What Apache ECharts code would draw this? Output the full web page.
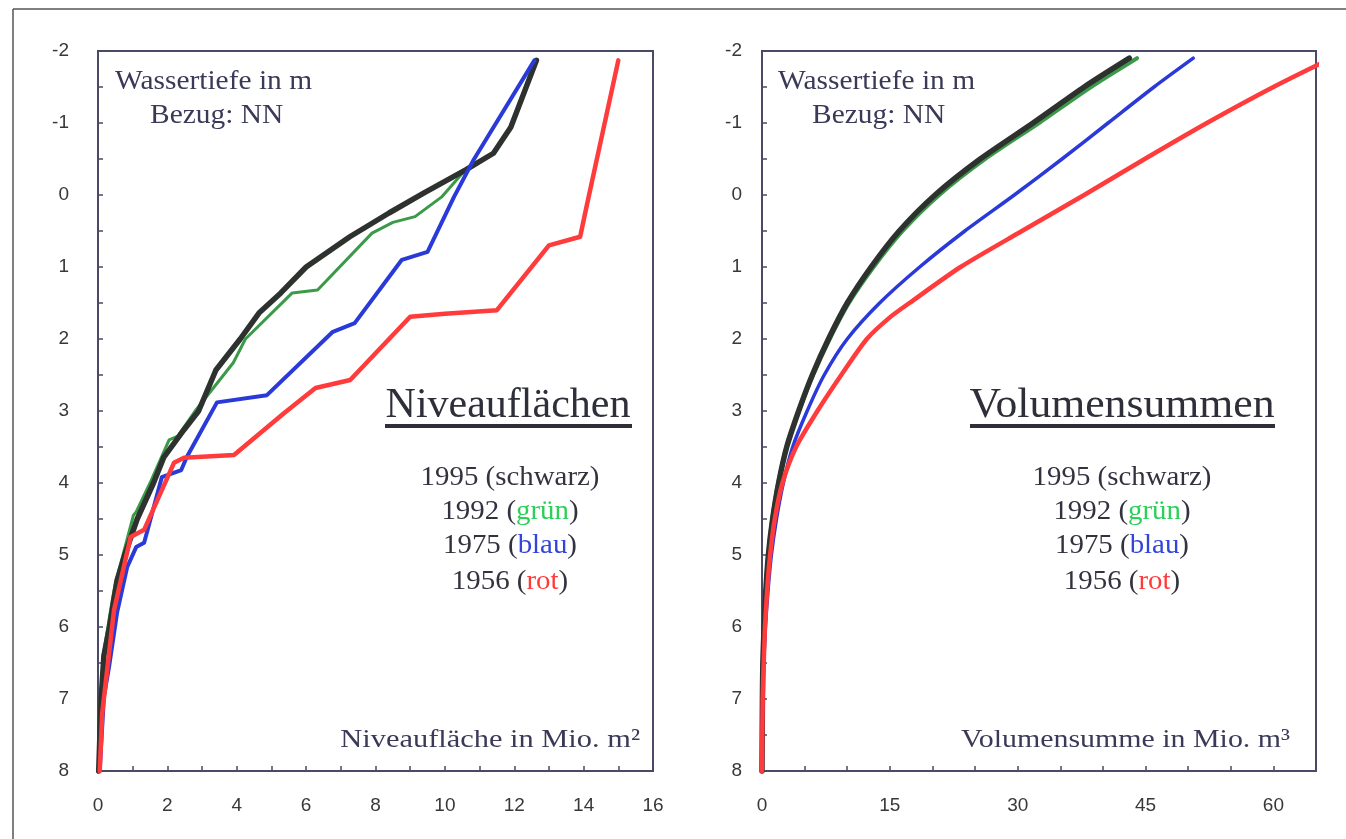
<!DOCTYPE html>
<html>
<head>
<meta charset="utf-8">
<script src="https://cdn.jsdelivr.net/npm/echarts@6/dist/echarts.min.js"></script>
<style>
html,body{margin:0;padding:0;background:#fff;}
#chart{width:1346px;height:839px;}
</style>
</head>
<body>
<div id="chart"></div>
<script>
// ---------- Niveauflächen (area in Mio. m², depth in m) ----------
const area1995Depth = [8.0, 7.0, 6.4, 6.0, 5.35, 5.0, 4.5, 4.0, 3.64, 3.26, 3.0, 2.43, 2.0, 1.64, 1.36, 1.0, 0.58, 0.25, -0.03, -0.35, -0.58, -0.94, -1.87];
const area1995 =      [0.02, 0.09, 0.17, 0.33, 0.55, 0.77, 1.13, 1.6, 1.9, 2.48, 2.9, 3.4, 4.1, 4.64, 5.27, 6.0, 7.26, 8.39, 9.4, 10.6, 11.4, 11.9, 12.64];

const area1992Depth = [8.0, 7.0, 6.4, 5.6, 5.4, 5.0, 4.45, 4.4, 4.0, 3.4, 3.35, 3.0, 2.33, 2.0, 1.36, 1.32, 0.53, 0.38, 0.3, 0.03, -0.3, -0.58, -0.94, -1.87];
const area1992 =      [0.02, 0.08, 0.15, 0.42, 0.5, 0.72, 1.02, 1.1, 1.5, 2.05, 2.3, 2.8, 3.9, 4.25, 5.6, 6.33, 7.9, 8.5, 9.14, 9.9, 10.5, 11.4, 11.9, 12.6];

const area1975Depth = [8.0, 6.97, 6.55, 5.8, 5.17, 4.89, 4.83, 3.92, 3.82, 3.64, 2.88, 2.78, 1.9, 1.78, 0.9, 0.79, 0.03, -0.49, -1.87];
const area1975 =      [0.05, 0.17, 0.32, 0.55, 0.84, 1.1, 1.33, 1.84, 2.4, 2.56, 3.43, 4.87, 6.77, 7.4, 8.76, 9.5, 10.26, 10.83, 12.58];

const area1956Depth = [8.0, 7.2, 5.77, 4.75, 4.65, 3.72, 3.65, 3.61, 3.03, 2.68, 2.57, 1.69, 1.65, 1.6, 0.7, 0.58, 0.17, -1.87];
const area1956 =      [0.05, 0.12, 0.46, 0.94, 1.33, 2.19, 2.48, 3.92, 5.36, 6.27, 7.27, 9.0, 10.0, 11.5, 13.0, 13.9, 14.08, 15.0];

// ---------- Volumensummen (volume in Mio. m³, depth in m) ----------
const volDepth = [8.0, 7.0, 6.5, 6.0, 5.5, 5.0, 4.5, 4.0, 3.5, 3.0, 2.5, 2.0, 1.5, 1.0, 0.5, 0.0, -0.5, -1.0, -1.5, -1.9];
const vol1995 = [0, 0.05, 0.1, 0.25, 0.45, 0.75, 1.25, 1.95, 2.9, 4.3, 5.9, 7.8, 10.0, 12.8, 16.1, 20.3, 25.6, 31.8, 37.8, 43.1];
const vol1992 = [0, 0.05, 0.1, 0.24, 0.43, 0.72, 1.2, 1.9, 2.9, 4.35, 6.0, 7.95, 10.2, 13.1, 16.5, 20.8, 26.2, 32.5, 38.6, 44.0];
const vol1975 = [0, 0.08, 0.2, 0.4, 0.7, 1.1, 1.7, 2.5, 3.6, 5.3, 7.3, 10.0, 13.8, 18.5, 23.8, 29.6, 35.2, 40.6, 46.0, 50.6];
const vol1956Depth = [8.0, 7.0, 6.5, 6.0, 5.5, 5.0, 4.5, 4.0, 3.5, 3.0, 2.5, 2.0, 1.7, 1.5, 1.0, 0.5, 0.0, -0.5, -1.0, -1.5, -1.9];
const vol1956 = [0, 0.08, 0.2, 0.35, 0.6, 0.95, 1.5, 2.4, 4.0, 6.5, 9.3, 12.3, 15.0, 17.3, 23.3, 30.5, 37.8, 44.9, 52.2, 60.0, 66.8];

// ---------- Axis ticks / labels ----------
const depthMin = -2, depthMax = 8, depthTickStep = 0.5;
const areaMin = 0, areaMax = 16, areaTickStep = 1, areaLabelStep = 2;
const volMin = 0, volMax = 65, volTickStep = 5, volLabelStep = 15;

const pairs = (xs, ys) => xs.map((x, i) => [x, ys[i]]);

const AXIS_COL = '#4a4a66';
const SERIF = '"Liberation Serif", "Times New Roman", serif';
const SANS = '"Liberation Sans", Arial, sans-serif';
const C_BLACK = '#2e322f', C_GREEN = '#3a9a48', C_BLUE = '#2a3ad8', C_RED = '#ff3b3b';

function yAxisDef(gridIndex, margin) {
  return {
    type: 'value', gridIndex, inverse: true, min: depthMin, max: depthMax, interval: depthTickStep,
    axisLine: { show: true, lineStyle: { color: AXIS_COL, width: 2 } },
    axisTick: { show: true, inside: true, length: 5, lineStyle: { color: AXIS_COL, width: 1.5 } },
    axisLabel: {
      margin, color: '#383838', fontFamily: SANS, fontSize: 19,
      formatter: v => Number.isInteger(v) ? String(v) : ''
    },
    splitLine: { show: false }
  };
}
function xAxisDef(gridIndex, min, max, step, labelStep) {
  return {
    type: 'value', gridIndex, min, max, interval: step,
    axisLine: { show: true, onZero: false, lineStyle: { color: AXIS_COL, width: 2 } },
    axisTick: { show: true, inside: true, length: 5, lineStyle: { color: AXIS_COL, width: 1.5 } },
    axisLabel: {
      margin: 25, color: '#383838', fontFamily: SANS, fontSize: 19,
      formatter: v => (Math.round(v) % labelStep === 0) ? String(v) : ''
    },
    splitLine: { show: false }
  };
}
function lineSeries(name, data, color, width, xi, smooth, z) {
  return {
    name, type: 'line', xAxisIndex: xi, yAxisIndex: xi, data,
    showSymbol: false, symbol: 'none', smooth: smooth, clip: false, z,
    lineStyle: { color, width, cap: 'round', join: 'round' }
  };
}

function legendBlock(cx) {
  const lines = [
    ['{d|1995 (schwarz)}', 478],
    ['{d|1992 (}{g|grün}{d|)}', 512],
    ['{d|1975 (}{b|blau}{d|)}', 546],
    ['{d|1956 (}{r|rot}{d|)}', 582]
  ];
  return lines.map(([t, y]) => ({
    type: 'text', x: cx, y, z: 50, scaleX: 1.07,
    style: {
      text: t, textAlign: 'center', textVerticalAlign: 'middle',
      rich: {
        d: { fill: '#333340', font: '27px ' + SERIF },
        g: { fill: '#2ccf5a', font: '27px ' + SERIF },
        b: { fill: '#3344dd', font: '27px ' + SERIF },
        r: { fill: '#ff3a3a', font: '27px ' + SERIF }
      }
    }
  }));
}

function txt(text, x, y, size, align, color, sx) {
  return { type: 'text', x, y, z: 50, scaleX: sx || 1,
    style: { text, font: size + 'px ' + SERIF, fill: color || '#3a3a58', textAlign: align || 'left', textVerticalAlign: 'middle' } };
}

const chart = echarts.init(document.getElementById('chart'), null, { renderer: 'canvas' });
chart.setOption({
  animation: false,
  backgroundColor: '#ffffff',
  grid: [
    { left: 98, top: 51, width: 555, height: 720, show: true, borderColor: AXIS_COL, borderWidth: 2, backgroundColor: 'transparent' },
    { left: 762, top: 51, width: 554, height: 720, show: true, borderColor: AXIS_COL, borderWidth: 2, backgroundColor: 'transparent' }
  ],
  xAxis: [
    xAxisDef(0, areaMin, areaMax, areaTickStep, areaLabelStep),
    xAxisDef(1, volMin, volMax, volTickStep, volLabelStep)
  ],
  yAxis: [yAxisDef(0, 29), yAxisDef(1, 20)],
  series: [
    lineSeries('1992', pairs(area1992, area1992Depth), C_GREEN, 3, 0, false, 2),
    lineSeries('1995', pairs(area1995, area1995Depth), C_BLACK, 5.5, 0, false, 3),
    lineSeries('1975', pairs(area1975, area1975Depth), C_BLUE, 4, 0, false, 4),
    lineSeries('1956', pairs(area1956, area1956Depth), C_RED, 4.5, 0, false, 5),
    lineSeries('1992', pairs(vol1992, volDepth), C_GREEN, 4, 1, 0.25, 2),
    lineSeries('1995', pairs(vol1995, volDepth), C_BLACK, 5.5, 1, 0.25, 3),
    lineSeries('1975', pairs(vol1975, volDepth), C_BLUE, 3.5, 1, 0.25, 4),
    lineSeries('1956', pairs(vol1956, vol1956Depth), C_RED, 4.5, 1, 0.25, 5)
  ],
  graphic: [
    { type: 'line', shape: { x1: 13, y1: 9, x2: 1346, y2: 9 }, style: { stroke: '#555', lineWidth: 1.5 } },
    { type: 'line', shape: { x1: 13, y1: 9, x2: 13, y2: 839 }, style: { stroke: '#555', lineWidth: 1.5 } },
    txt('Wassertiefe in m', 115, 82, 27, 'left', null, 1.09),
    txt('Bezug: NN', 150, 116, 27, 'left', null, 1.09),
    txt('Wassertiefe in m', 778, 82, 27, 'left', null, 1.09),
    txt('Bezug: NN', 812, 116, 27, 'left', null, 1.09),
    txt('Niveauflächen', 508, 406, 42, 'center', '#2f2f3a', 1.0),
    { type: 'rect', shape: { x: 385, y: 424, width: 247, height: 4 }, style: { fill: '#2f2f3a' } },
    txt('Volumensummen', 1122, 406, 42, 'center', '#2f2f3a', 1.04),
    { type: 'rect', shape: { x: 970, y: 424, width: 305, height: 4 }, style: { fill: '#2f2f3a' } },
    ...legendBlock(510),
    ...legendBlock(1122),
    txt('Niveaufläche in Mio. m²', 640, 740, 26, 'right', null, 1.17),
    txt('Volumensumme in Mio. m³', 1290, 740, 26, 'right', null, 1.15)
  ]
});
</script>
</body>
</html>
